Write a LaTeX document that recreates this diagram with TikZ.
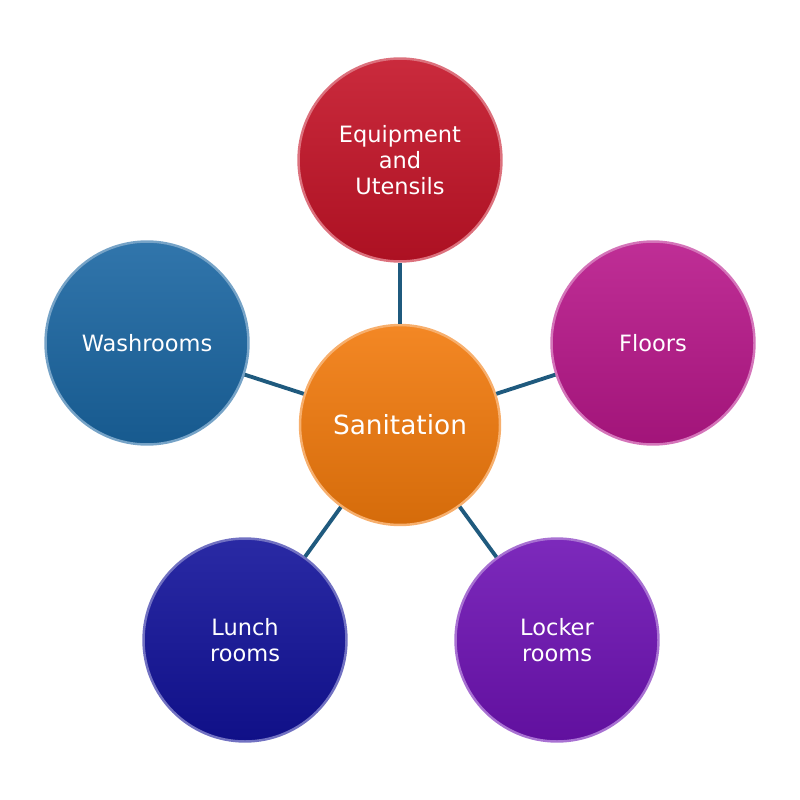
\documentclass[tikz,border=0pt]{standalone}
\usepackage{fontspec}
\setmainfont{DejaVu Sans}
\usetikzlibrary{positioning}
\definecolor{linkblue}{HTML}{1F5A7E}
\definecolor{eqred}{HTML}{C41327}
\definecolor{sanorange}{HTML}{F27A0C}
\definecolor{washblue}{HTML}{1A66A2}
\definecolor{floorpink}{HTML}{B8178A}
\definecolor{lunchnavy}{HTML}{12129A}
\definecolor{lockerpurple}{HTML}{6E12B4}

\begin{document}
\begin{tikzpicture}[x=0.02cm,y=-0.02cm,
  ball/.style={circle,minimum size=4.06cm,inner sep=0pt,align=center,text=white,
    top color=#1!90!white,bottom color=#1!88!black,draw=#1!60!white,line width=1.4pt,
    font=\fontsize{12.8}{14.7}\selectfont},
  link/.style={draw=linkblue,line width=2.2pt}]
\useasboundingbox (0,0) rectangle (800,800);
% hub and spokes
\node[ball=sanorange,minimum size=4.0cm,font=\fontsize{15}{18}\selectfont] (san) at (400,425) {Sanitation};
\node[ball=eqred] (equip) at (400,160) {Equipment\\and\\Utensils};
\node[ball=washblue] (wash) at (147,343) {Washrooms};
\node[ball=floorpink] (floors) at (653,343) {Floors};
\node[ball=lunchnavy] (lunch) at (245,640) {Lunch\\rooms};
\node[ball=lockerpurple] (locker) at (557,640) {Locker\\rooms};
% connectors
\foreach \nn in {equip,wash,floors,lunch,locker}
  {\draw[link] (san) -- (\nn);}
\end{tikzpicture}
\end{document}
